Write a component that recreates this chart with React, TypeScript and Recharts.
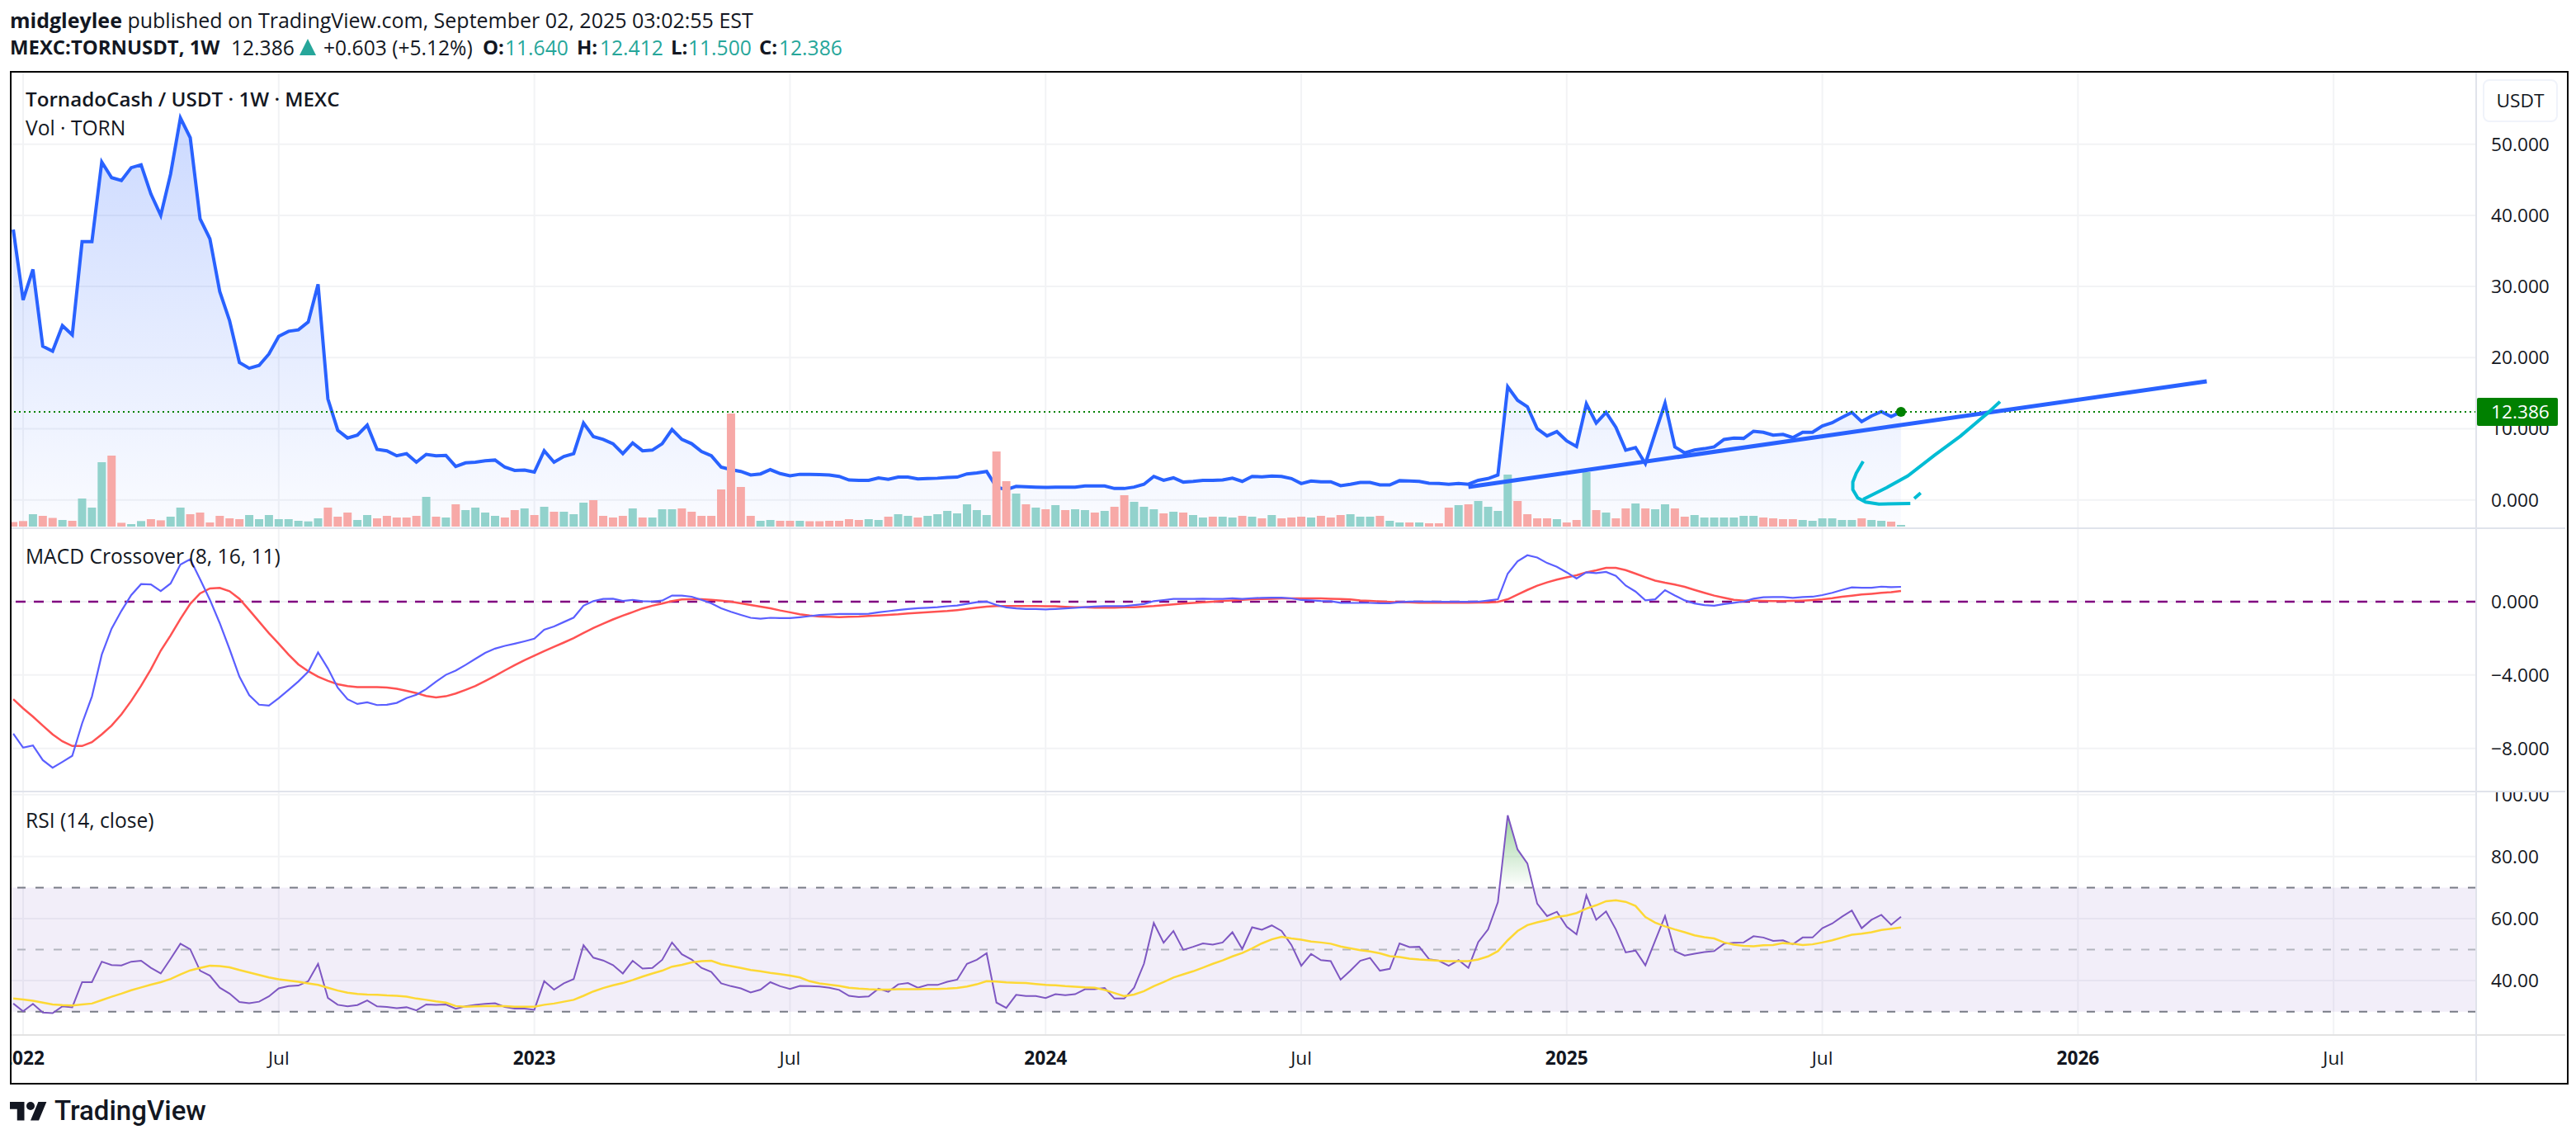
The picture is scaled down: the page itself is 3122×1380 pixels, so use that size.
import { Area, Bar, CartesianGrid, ComposedChart, Line, ReferenceArea, ReferenceDot, ReferenceLine, XAxis, YAxis } from 'recharts';

// one value per week, first entry is the week before 2022-01-03
const price = [
  38.0, 28.1, 32.4, 21.6, 20.9, 24.5, 23.2, 36.3, 36.3, 47.5,
  45.3, 44.9, 46.7, 47.1, 43.0, 40.0, 45.8, 53.7, 50.9, 39.5,
  36.7, 29.3, 25.2, 19.3, 18.5, 18.9, 20.5, 23.0, 23.7, 23.9,
  25.0, 30.3, 14.2, 9.8, 8.7, 9.1, 10.5, 7.1, 6.9, 6.2,
  6.5, 5.3, 6.4, 6.2, 6.25, 4.7, 5.2, 5.3, 5.5, 5.6,
  4.6, 4.15, 4.2, 3.9, 6.9, 5.3, 6.1, 6.5, 10.8, 8.9,
  8.5, 7.9, 6.5, 8.0, 6.9, 7.0, 7.9, 9.9, 8.5, 7.9,
  6.8, 6.2, 4.6, 4.25, 4.0, 3.5, 3.65, 4.25, 3.7, 3.4,
  3.6, 3.6, 3.55, 3.5, 3.3, 2.8, 2.75, 2.75, 3.1, 2.9,
  3.2, 3.2, 2.95, 3.0, 3.05, 3.15, 3.2, 3.65, 3.8, 4.0,
  1.8, 1.45, 1.9, 1.85, 1.8, 1.75, 1.8, 1.8, 1.8, 1.95,
  1.95, 1.95, 1.6, 1.6, 1.8, 2.2, 3.3, 2.75, 3.1, 2.5,
  2.6, 2.75, 2.75, 2.8, 3.05, 2.6, 3.3, 3.25, 3.35, 3.3,
  3.0, 2.3, 2.65, 2.55, 2.55, 2.0, 2.2, 2.45, 2.45, 2.1,
  2.1, 2.7, 2.65, 2.6, 2.35, 2.3, 2.2, 2.3, 2.2, 2.75,
  3.0, 3.5, 15.9, 14.0, 13.1, 10.0, 9.0, 9.6, 8.3, 7.5,
  13.5, 10.8, 12.3, 10.2, 7.0, 7.35, 5.1, 9.4, 13.6, 7.45,
  6.6, 7.0, 7.2, 7.45, 8.5, 8.7, 8.65, 9.65, 9.5, 9.1,
  9.2, 8.75, 9.5, 9.5, 10.4, 10.85, 11.6, 12.3, 11.0, 11.8,
  12.4, 11.7, 12.386,
];

const volume = [
  5.5, 6.7, 15, 13, 10.5, 8, 7, 34, 23, 78,
  86, 4.6, 3, 6.7, 9, 7.6, 12, 23, 15, 17,
  5, 13, 10, 9, 14, 9, 14, 9, 9, 7,
  6.3, 10, 23, 12, 17, 8, 14, 10, 13, 11,
  11, 13, 36, 12, 11, 27, 20, 23, 17, 13,
  11, 20, 22, 14, 24, 18, 18, 15, 29, 32,
  13, 11, 13, 22, 11, 11, 21, 21, 22, 18,
  13, 13, 45, 137, 48, 13, 7, 8, 7, 7,
  7, 6.5, 6.5, 7, 7, 9, 8, 9, 8, 12,
  15, 13, 11, 13, 15, 19, 16, 27, 20, 14,
  91, 55, 40, 27, 23, 21, 26, 20, 21, 20,
  17, 19, 24, 38, 30, 24, 21, 16, 18, 17,
  14, 11, 12, 12, 11, 13, 12, 10, 14, 10,
  11, 12, 11, 13, 11, 14, 15, 12, 12, 13,
  7, 5, 5, 5, 4, 4, 23, 26, 27, 31,
  24, 19, 63, 31, 15, 10, 10, 9, 5, 8,
  66, 20, 17, 10, 22, 28, 22, 21, 27, 22,
  12, 14, 11, 11, 11, 11, 13, 13, 11, 10,
  9, 9, 8, 7, 10, 10, 8, 8, 10, 8,
  7, 6, 2,
];

// 1 = up week, 0 = down week
const volumeUp = [
  0, 0, 1, 0, 0, 1, 0, 1, 1, 1,
  0, 0, 1, 1, 0, 0, 1, 1, 0, 0,
  0, 0, 0, 0, 1, 1, 1, 1, 1, 1,
  1, 1, 0, 0, 0, 1, 1, 0, 0, 0,
  0, 0, 1, 0, 1, 0, 1, 1, 1, 1,
  0, 0, 1, 0, 1, 0, 1, 1, 1, 0,
  0, 0, 0, 1, 0, 1, 1, 1, 0, 0,
  0, 0, 0, 0, 0, 0, 1, 1, 0, 0,
  1, 0, 0, 0, 0, 0, 0, 1, 1, 0,
  1, 1, 0, 1, 1, 1, 1, 1, 1, 1,
  0, 0, 1, 0, 1, 0, 1, 0, 1, 1,
  0, 1, 0, 0, 1, 1, 1, 0, 1, 0,
  1, 1, 0, 1, 1, 0, 1, 0, 1, 0,
  0, 0, 1, 0, 0, 0, 1, 1, 1, 0,
  1, 1, 0, 1, 0, 0, 0, 1, 0, 1,
  1, 1, 1, 0, 0, 0, 0, 1, 0, 0,
  1, 0, 1, 0, 0, 1, 0, 1, 1, 0,
  0, 1, 1, 1, 1, 1, 1, 1, 0, 0,
  0, 0, 1, 1, 1, 1, 1, 1, 0, 1,
  1, 0, 1,
];

const macd = [
  -7.2, -7.96, -7.84, -8.64, -9.06, -8.74, -8.41, -6.64, -5.17, -2.89,
  -1.47, -0.5, 0.36, 0.96, 0.94, 0.58, 0.99, 2.02, 2.32, 1.23,
  0.1, -1.17, -2.59, -4.09, -5.1, -5.62, -5.67, -5.26, -4.81, -4.35,
  -3.82, -2.77, -3.64, -4.69, -5.32, -5.58, -5.49, -5.64, -5.62, -5.52,
  -5.26, -5.08, -4.77, -4.36, -3.99, -3.76, -3.45, -3.12, -2.79, -2.56,
  -2.41, -2.29, -2.16, -2.02, -1.53, -1.35, -1.11, -0.87, -0.22, 0.03,
  0.15, 0.16, 0.04, 0.1, 0.03, 0.01, 0.06, 0.33, 0.33, 0.27,
  0.1, -0.09, -0.36, -0.55, -0.72, -0.88, -0.93, -0.88, -0.9, -0.9,
  -0.85, -0.79, -0.73, -0.7, -0.67, -0.67, -0.67, -0.66, -0.58, -0.52,
  -0.46, -0.4, -0.36, -0.33, -0.3, -0.25, -0.21, -0.12, -0.03, 0,
  -0.18, -0.31, -0.37, -0.4, -0.4, -0.42, -0.4, -0.37, -0.34, -0.3,
  -0.27, -0.24, -0.24, -0.24, -0.19, -0.13, 0.03, 0.09, 0.15, 0.15,
  0.15, 0.16, 0.15, 0.15, 0.18, 0.15, 0.19, 0.21, 0.22, 0.22,
  0.18, 0.09, 0.07, 0.04, 0.03, -0.06, -0.07, -0.07, -0.07, -0.09,
  -0.09, -0.03, 0, 0.01, 0, -0.01, -0.01, -0.01, -0.01, 0,
  0.06, 0.13, 1.53, 2.2, 2.53, 2.41, 2.11, 1.9, 1.6, 1.26,
  1.6, 1.56, 1.62, 1.41, 0.88, 0.55, 0.07, 0.13, 0.63, 0.34,
  0.07, -0.1, -0.19, -0.22, -0.13, -0.06, 0.01, 0.16, 0.24, 0.25,
  0.25, 0.21, 0.25, 0.27, 0.36, 0.48, 0.64, 0.78, 0.76, 0.76,
  0.82, 0.79, 0.81,
];

const signal = [
  -5.32, -5.82, -6.27, -6.76, -7.24, -7.62, -7.87, -7.87, -7.66, -7.24,
  -6.76, -6.15, -5.41, -4.59, -3.69, -2.67, -1.84, -0.94, -0.12, 0.45,
  0.72, 0.75, 0.57, 0.16, -0.46, -1.09, -1.72, -2.29, -2.89, -3.42,
  -3.79, -4.09, -4.32, -4.5, -4.6, -4.66, -4.66, -4.66, -4.68, -4.75,
  -4.86, -4.99, -5.14, -5.22, -5.16, -5.01, -4.81, -4.6, -4.33, -4.05,
  -3.75, -3.46, -3.19, -2.94, -2.7, -2.46, -2.23, -1.99, -1.71, -1.44,
  -1.2, -0.97, -0.76, -0.57, -0.37, -0.22, -0.1, 0.03, 0.12, 0.13,
  0.13, 0.1, 0.06, 0, -0.09, -0.18, -0.27, -0.36, -0.48, -0.58,
  -0.69, -0.76, -0.81, -0.82, -0.84, -0.82, -0.81, -0.78, -0.75, -0.72,
  -0.69, -0.64, -0.61, -0.58, -0.54, -0.51, -0.46, -0.4, -0.33, -0.27,
  -0.24, -0.24, -0.24, -0.24, -0.24, -0.25, -0.25, -0.28, -0.3, -0.31,
  -0.33, -0.33, -0.33, -0.31, -0.3, -0.27, -0.24, -0.19, -0.15, -0.1,
  -0.07, -0.03, 0, 0.04, 0.07, 0.1, 0.13, 0.15, 0.16, 0.18,
  0.18, 0.18, 0.18, 0.18, 0.16, 0.15, 0.12, 0.07, 0.04, 0.01,
  -0.01, -0.03, -0.04, -0.06, -0.06, -0.06, -0.06, -0.06, -0.06, -0.05,
  -0.05, -0.01, 0.13, 0.39, 0.64, 0.87, 1.05, 1.2, 1.33, 1.44,
  1.6, 1.71, 1.84, 1.84, 1.72, 1.53, 1.33, 1.15, 1.03, 0.93,
  0.81, 0.64, 0.48, 0.33, 0.21, 0.1, 0.06, 0.06, 0.04, 0.03,
  0.03, 0.04, 0.06, 0.09, 0.13, 0.19, 0.27, 0.33, 0.39, 0.43,
  0.48, 0.52, 0.58,
];

const rsi = [
  32.6, 30.1, 32.5, 29.7, 29.5, 31.7, 31.4, 39.5, 39.5, 46.1,
  45.0, 44.9, 46.1, 46.4, 44.1, 42.3, 47.0, 51.9, 50.1, 43.2,
  41.6, 37.7, 35.8, 33.1, 32.7, 33.2, 34.9, 37.5, 38.2, 38.4,
  39.8, 45.4, 34.4, 32.2, 31.7, 32.1, 33.6, 31.7, 31.5, 31.1,
  31.4, 30.4, 32.3, 32.2, 32.3, 30.9, 31.7, 32.2, 32.5, 32.7,
  31.5, 31.0, 31.0, 30.6, 39.8, 37.1, 39.1, 40.5, 51.4, 47.4,
  46.5, 45.0, 42.3, 46.4, 43.9, 44.1, 46.7, 52.3, 48.5, 46.8,
  44.1, 42.8, 39.1, 38.2, 37.5, 36.2, 37.1, 39.5, 38.2, 37.3,
  38.3, 38.2, 38.1, 37.7, 37.0, 35.1, 34.7, 34.9, 37.4, 36.4,
  38.8, 39.2, 37.7, 38.6, 38.6, 39.6, 40.3, 45.4, 46.7, 48.8,
  32.9, 31.2, 35.4, 35.0, 35.0, 34.4, 35.6, 35.3, 35.6, 37.2,
  37.2, 37.6, 34.2, 34.2, 37.7, 45.4, 58.6, 52.2, 56.0, 49.9,
  50.9, 52.0, 51.6, 52.3, 55.6, 50.2, 57.2, 56.4, 57.8, 56.0,
  51.5, 44.8, 48.6, 46.6, 46.3, 40.3, 43.2, 46.4, 47.3, 43.2,
  43.8, 52.0, 50.8, 50.9, 46.9, 46.4, 44.8, 46.6, 44.1, 52.4,
  56.5, 65.3, 93.3, 82.3, 77.8, 64.8, 60.8, 62.2, 57.4, 54.9,
  67.5, 59.6, 62.3, 56.5, 49.1, 49.7, 44.9, 52.9, 60.8, 49.5,
  48.1, 48.7, 49.2, 49.5, 51.9, 52.2, 52.3, 54.3, 53.9, 52.8,
  53.0, 51.7, 53.9, 53.9, 56.9, 58.4, 60.6, 62.6, 56.9, 59.6,
  61.2, 58.0, 60.6,
];

const rsiMa = [
  34.2, 33.9, 33.5, 32.9, 32.3, 32.1, 32.0, 32.3, 32.6, 33.7,
  34.8, 35.8, 36.9, 37.8, 38.7, 39.5, 40.5, 42.0, 43.3, 44.1,
  44.8, 44.7, 44.3, 43.4, 42.6, 41.8, 41.0, 40.4, 40.0, 39.6,
  39.1, 38.6, 37.7, 36.8, 36.1, 35.7, 35.5, 35.4, 35.2, 35.1,
  34.8, 34.2, 33.8, 33.3, 32.9, 31.8, 31.6, 31.7, 31.8, 31.8,
  31.8, 31.6, 31.6, 31.6, 32.2, 32.6, 33.2, 33.8, 35.1, 36.5,
  37.6, 38.5, 39.2, 40.2, 41.3, 42.3, 43.2, 44.5, 45.1, 45.9,
  46.3, 46.4, 45.3, 44.7, 44.1, 43.4, 43.0, 42.5, 42.1, 41.6,
  41.0, 39.8, 39.1, 38.7, 38.3, 37.7, 37.4, 37.2, 37.1, 37.1,
  37.2, 37.2, 37.2, 37.3, 37.3, 37.4, 37.6, 38.1, 38.8, 39.8,
  39.7, 39.4, 39.3, 39.2, 38.9, 38.6, 38.5, 38.2, 38.0, 37.8,
  37.7, 37.0, 36.0, 35.0, 35.5, 36.6, 38.2, 39.5, 41.0, 42.0,
  43.0, 44.2, 45.4, 46.5, 47.8, 48.9, 50.4, 52.0, 53.3, 54.1,
  53.6, 53.2, 52.6, 52.3, 51.9, 51.0, 50.4, 49.8, 49.4, 48.8,
  47.9, 47.6, 47.1, 46.8, 46.6, 46.4, 46.3, 46.3, 46.3, 46.8,
  47.8, 49.5, 53.0, 56.0, 57.9, 58.8, 59.5, 60.5, 61.0, 61.8,
  63.2, 64.3, 65.6, 65.9, 65.4, 64.1, 60.5, 58.7, 57.5, 56.5,
  55.6, 54.6, 54.0, 53.6, 52.3, 51.6, 51.2, 51.1, 51.4, 51.5,
  52.1, 51.9, 51.5, 51.7, 52.3, 53.0, 53.9, 54.8, 55.1, 55.6,
  56.3, 56.7, 57.1,
];

// the part of the RSI that sits above 70
const overboughtWeeks = [150.17, 151, 152, 153, 153.6];
const overboughtValues = [70, 93.3, 82.3, 77.8, 70];

// hand drawn cyan arrow, in week / price terms
const arrowWeeks = [201.07, 199.7, 197.05, 194.4, 191.7, 189.55, 187.15];
const arrowValues = [13.81, 12.07, 8.97, 6.27, 3.37, 1.74, 0.08];
const hookWeeks = [187.15, 186.45, 186.1, 186.1, 186.6, 187.4, 188.75, 191.95];
const hookValues = [5.42, 3.76, 2.52, 1.44, 0.28, -0.3, -0.58, -0.5];
const tailWeeks = [193.0, 192.35];
const tailValues = [0.97, 0.2];

const timeTicks = [0, 26, 52, 78, 104, 130, 157, 183, 209, 235];
const timeLabels = ['2022', 'Jul', '2023', 'Jul', '2024', 'Jul', '2025', 'Jul', '2026', 'Jul'];
const priceTicks = [0, 10, 20, 30, 40, 50];
const macdTicks = [0, -4, -8];
const rsiTicks = [40, 60, 80, 100];
const lastPrice = 12.386;

const table = price.map((p, i) => ({
  week: i - 1,
  price: p,
  volume: volume[i],
  macd: macd[i],
  signal: signal[i],
  rsi: rsi[i],
  rsiMa: rsiMa[i],
}));

const zipPoints = (weeks: number[], values: number[]) => weeks.map((week, i) => ({ week, v: values[i] }));

const FONT = '"Open Sans", sans-serif';
const INK = '#131722';
const TEAL = '#26a69a';
const GRID = '#f2f3f5';
const WEEK_DOMAIN = [-1.175, 249.5];
const CHART_W = 3095;
const AXIS_SIZE = 22.7;

const text = (left: number, top: number, size: number, weight = 400, color = INK) => ({
  position: 'absolute' as const,
  left,
  top,
  fontSize: size,
  fontWeight: weight,
  lineHeight: `${Math.round(size) + 6}px`,
  whiteSpace: 'pre' as const,
  color,
});

const AxisLabel = ({ x, y, payload, digits }: any) => {
  const v = payload.value;
  const label = (v < 0 ? '\u2212' : '') + Math.abs(v).toFixed(digits);
  return (
    <text x={x} y={y + 8} fontSize={AXIS_SIZE} fontFamily={FONT} fill={INK}>
      {label}
    </text>
  );
};

const PriceLabel = ({ x, y, payload }: any) => {
  const v = payload.value;
  if (v !== lastPrice) return <AxisLabel x={x} y={y} payload={payload} digits={3} />;
  return (
    <g>
      <rect x={x - 17} y={y - 17} width={98} height={34} rx={2} fill="#008000" />
      <text x={x} y={y + 8} fontSize={AXIS_SIZE} fontFamily={FONT} fill="#ffffff">
        {v.toFixed(3)}
      </text>
    </g>
  );
};

const TimeLabel = ({ x, y, payload }: any) => {
  const label = timeLabels[timeTicks.indexOf(payload.value)];
  return (
    <text x={x} y={y + 8} textAnchor="middle" fontSize={AXIS_SIZE} fontFamily={FONT} fontWeight={label === 'Jul' ? 400 : 700} fill={INK}>
      {label}
    </text>
  );
};

// recharts squeezes the bars on a number axis, so the width is set here
const VolumeBar = ({ x, y, width, height, index }: any) => (
  <rect x={x + width / 2 - 5} y={y} width={10} height={height} fill={volumeUp[index] ? '#92d2cc' : '#f7a9a7'} />
);

const App = () => {
  return (
    <div style={{ position: 'absolute', left: 0, top: 0, width: 3122, height: 1380, background: '#ffffff', fontFamily: FONT, overflow: 'hidden' }}>
      <div style={text(12, 9, 25)}>
        <b>midgleylee</b> published on TradingView.com, September 02, 2025 03:02:55 EST
      </div>
      <div style={text(12, 42, 23.9, 700)}>MEXC:TORNUSDT, 1W</div>
      <div style={text(280, 42, 24.6)}>12.386</div>
      <svg style={{ position: 'absolute', left: 363, top: 47 }} width={20} height={20}>
        <polygon points="10,0 20,20 0,20" fill={TEAL} />
      </svg>
      <div style={text(392, 42, 24.6)}>+0.603 (+5.12%)</div>
      <div style={text(585, 42, 24, 700)}>O:</div>
      <div style={text(612, 42, 24.6, 400, TEAL)}>11.640</div>
      <div style={text(699, 42, 24, 700)}>H:</div>
      <div style={text(727, 42, 24.6, 400, TEAL)}>12.412</div>
      <div style={text(813, 42, 24, 700)}>L:</div>
      <div style={text(834, 42, 24.6, 400, TEAL)}>11.500</div>
      <div style={text(920, 42, 24, 700)}>C:</div>
      <div style={text(944, 42, 24.6, 400, TEAL)}>12.386</div>

      <div style={{ position: 'absolute', left: 14, top: 88 }}>
        <ComposedChart width={CHART_W} height={553} data={table} margin={{ top: 0, right: 0, bottom: 0, left: 0 }}>
          <defs>
            <linearGradient id="priceFill" x1="0" y1="0" x2="0" y2="1">
              <stop offset="0%" stopColor="#2962ff" stopOpacity={0.24} />
              <stop offset="100%" stopColor="#2962ff" stopOpacity={0.02} />
            </linearGradient>
          </defs>
          <CartesianGrid stroke={GRID} strokeWidth={2} horizontalValues={priceTicks} verticalValues={timeTicks} />
          <XAxis dataKey="week" type="number" domain={WEEK_DOMAIN} ticks={timeTicks} allowDataOverflow hide />
          <YAxis
            orientation="right"
            width={108}
            domain={[-4.1, 60.06]}
            ticks={[...priceTicks, lastPrice]}
            interval={0}
            allowDataOverflow
            axisLine={false}
            tickLine={false}
            tickSize={0}
            tickMargin={18}
            tick={<PriceLabel />}
          />
          <YAxis yAxisId="vol" hide domain={[-3, 550]} allowDataOverflow />
          <Bar yAxisId="vol" dataKey="volume" shape={<VolumeBar />} isAnimationActive={false} />
          <Area dataKey="price" type="linear" baseValue={-4.1} stroke="#2962ff" strokeWidth={4} fill="url(#priceFill)" fillOpacity={1} dot={false} activeDot={false} isAnimationActive={false} />
          <ReferenceLine y={lastPrice} stroke="#008000" strokeWidth={2} strokeDasharray="2 4" />
          <ReferenceLine segment={[{ x: 147, y: 1.82 }, { x: 222.1, y: 16.67 }]} stroke="#2962ff" strokeWidth={5} />
          <Line data={zipPoints(arrowWeeks, arrowValues)} dataKey="v" type="linear" stroke="#00bcd4" strokeWidth={4} dot={false} activeDot={false} isAnimationActive={false} />
          <Line data={zipPoints(hookWeeks, hookValues)} dataKey="v" type="linear" stroke="#00bcd4" strokeWidth={4} dot={false} activeDot={false} isAnimationActive={false} />
          <Line data={zipPoints(tailWeeks, tailValues)} dataKey="v" type="linear" stroke="#00bcd4" strokeWidth={4} dot={false} activeDot={false} isAnimationActive={false} />
          <ReferenceDot x={191} y={lastPrice} r={6} fill="#008000" stroke="none" />
        </ComposedChart>
      </div>

      <div style={{ position: 'absolute', left: 14, top: 641 }}>
        <ComposedChart width={CHART_W} height={319} data={table} margin={{ top: 0, right: 0, bottom: 0, left: 0 }}>
          <CartesianGrid stroke={GRID} strokeWidth={2} horizontalValues={macdTicks} verticalValues={timeTicks} />
          <XAxis dataKey="week" type="number" domain={WEEK_DOMAIN} ticks={timeTicks} allowDataOverflow hide />
          <YAxis
            orientation="right"
            width={108}
            domain={[-10.4, 3.96]}
            ticks={macdTicks}
            interval={0}
            allowDataOverflow
            axisLine={false}
            tickLine={false}
            tickSize={0}
            tickMargin={18}
            tick={<AxisLabel digits={3} />}
          />
          <ReferenceLine y={0} stroke="#800080" strokeWidth={2.5} strokeDasharray="12 10" />
          <Line dataKey="signal" type="linear" stroke="#ff5252" strokeWidth={2.5} dot={false} activeDot={false} isAnimationActive={false} />
          <Line dataKey="macd" type="linear" stroke="#5b5fff" strokeWidth={2.2} dot={false} activeDot={false} isAnimationActive={false} />
        </ComposedChart>
      </div>

      <div style={{ position: 'absolute', left: 14, top: 960 }}>
        <ComposedChart width={CHART_W} height={350} data={table} margin={{ top: 0, right: 0, bottom: 0, left: 0 }}>
          <defs>
            <linearGradient id="overFill" x1="0" y1="0" x2="0" y2="1">
              <stop offset="0%" stopColor="#4caf50" stopOpacity={0.55} />
              <stop offset="100%" stopColor="#4caf50" stopOpacity={0} />
            </linearGradient>
          </defs>
          <CartesianGrid stroke={GRID} strokeWidth={2} horizontalValues={rsiTicks} verticalValues={timeTicks} />
          <ReferenceArea y1={30} y2={70} fill="#7e57c2" fillOpacity={0.1} stroke="none" />
          <XAxis
            dataKey="week"
            type="number"
            domain={WEEK_DOMAIN}
            ticks={timeTicks}
            interval={0}
            allowDataOverflow
            height={56}
            axisLine={false}
            tickLine={false}
            tickSize={0}
            tickMargin={28}
            tick={<TimeLabel />}
          />
          <YAxis
            orientation="right"
            width={108}
            domain={[22.45, 100.72]}
            ticks={rsiTicks}
            interval={0}
            allowDataOverflow
            axisLine={false}
            tickLine={false}
            tickSize={0}
            tickMargin={18}
            tick={<AxisLabel digits={2} />}
          />
          <ReferenceLine y={70} stroke="#787b86" strokeWidth={2} strokeDasharray="10 12" />
          <ReferenceLine y={50} stroke="#b2b5be" strokeWidth={2} strokeDasharray="10 12" />
          <ReferenceLine y={30} stroke="#787b86" strokeWidth={2} strokeDasharray="10 12" />
          <Area data={zipPoints(overboughtWeeks, overboughtValues)} dataKey="v" type="linear" baseValue={70} stroke="none" fill="url(#overFill)" fillOpacity={1} dot={false} activeDot={false} isAnimationActive={false} />
          <Line dataKey="rsi" type="linear" stroke="#7e57c2" strokeWidth={2} dot={false} activeDot={false} isAnimationActive={false} />
          <Line dataKey="rsiMa" type="linear" stroke="#fdd835" strokeWidth={2.5} dot={false} activeDot={false} isAnimationActive={false} />
        </ComposedChart>
      </div>

      {/* pane separators and the outer frame */}
      <div style={{ position: 'absolute', left: 14, top: 639, width: 3095, height: 2, background: '#e0e3eb' }} />
      <div style={{ position: 'absolute', left: 14, top: 958, width: 3095, height: 2, background: '#e0e3eb' }} />
      <div style={{ position: 'absolute', left: 14, top: 1253, width: 3095, height: 2, background: '#e3e3e3' }} />
      <div style={{ position: 'absolute', left: 3000, top: 88, width: 2, height: 1222, background: '#e0e3eb' }} />
      <div style={{ position: 'absolute', left: 12, top: 86, width: 3097, height: 1224, border: '2px solid #000000' }} />

      <div style={text(31, 105, 24.2, 600)}>TornadoCash / USDT · 1W · MEXC</div>
      <div style={text(31, 139, 24.6)}>Vol · TORN</div>
      <div style={text(31, 658, 24.6)}>MACD Crossover (8, 16, 11)</div>
      <div style={text(31, 978, 24.6)}>RSI (14, close)</div>

      <div style={{ position: 'absolute', left: 3009, top: 96, width: 91, height: 52, boxSizing: 'border-box', border: '2px solid #f0f3fa', borderRadius: 8, fontSize: AXIS_SIZE, lineHeight: '48px', textAlign: 'center', color: INK }}>
        USDT
      </div>

      <svg style={{ position: 'absolute', left: 12, top: 1330 }} width={45} height={30} viewBox="0 0 36 24">
        <path d="M14 22H7V11H0V4h14v18zM28 22h-8l7.5-18h8L28 22z" fill={INK} />
        <circle cx="20" cy="8" r="4" fill={INK} />
      </svg>
      <div style={{ ...text(66, 1326, 33, 500), fontFamily: 'Roboto, sans-serif' }}>TradingView</div>
    </div>
  );
};

export default App;
